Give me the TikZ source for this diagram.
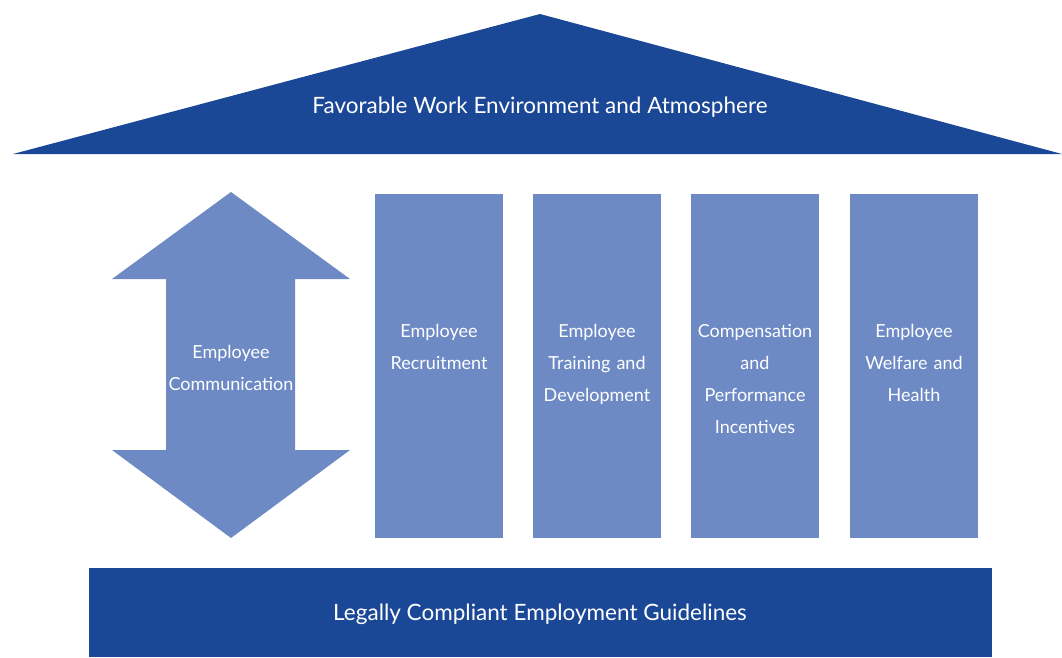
\documentclass[tikz,border=0pt]{standalone}
\usepackage{fontspec}
\setmainfont{Lato}
\definecolor{darkblue}{HTML}{1B4797}
\definecolor{lightblue}{HTML}{6D8AC5}
\begin{document}
\begin{tikzpicture}[x=1pt,y=-1pt,
  coltext/.style={text=white,font=\fontsize{18}{32}\selectfont,align=center,text width=128pt},
  bigtext/.style={text=white,font=\fontsize{22.5}{26}\selectfont},
  pillar/.style={fill=lightblue,draw=none,minimum width=128pt,minimum height=344pt,inner sep=0pt}]
\useasboundingbox (0,0) rectangle (1062,657);
% roof
\fill[darkblue] (13,154) -- (540,14) -- (1062,154) -- cycle;
\node[bigtext] (roof) at (540,107) {Favorable Work Environment and Atmosphere};
% arrow
\fill[lightblue] (231,192) -- (350,279) -- (295,279) -- (295,450) -- (350,450) -- (231,538) -- (112,450) -- (166,450) -- (166,279) -- (112,279) -- cycle;
\node[coltext] (comm) at (231,368) {Employee\\Communication};
% pillars
\node[pillar] (p1) at (439,366) {};
\node[pillar] (p2) at (597,366) {};
\node[pillar] (p3) at (755,366) {};
\node[pillar] (p4) at (914,366) {};
\node[coltext] (t1) at (439,347) {Employee\\Recruitment};
\node[coltext] (t2) at (597,364) {Employee\\Training and\\Development};
\node[coltext] (t3) at (755,379) {Compensation\\and\\Performance\\Incentives};
\node[coltext] (t4) at (914,363) {Employee\\Welfare and\\Health};
% base
\fill[darkblue] (89,568) rectangle (992,657);
\node[bigtext] (base) at (540,614) {Legally Compliant Employment Guidelines};
\end{tikzpicture}
\end{document}
